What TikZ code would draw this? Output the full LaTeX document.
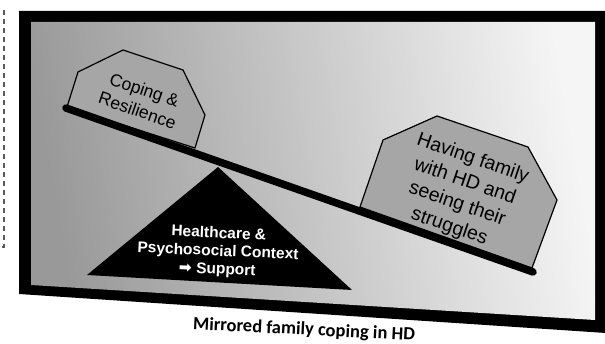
\documentclass[tikz,border=0pt]{standalone}
\usepackage{fontspec}
\setmainfont{Liberation Sans}
\newfontfamily\capfont{Carlito}
\newfontfamily\symfont{DejaVu Sans}
\usepackage{tikz}
\usetikzlibrary{arrows,shapes,backgrounds}

\begin{document}
\begin{tikzpicture}[x=1pt,y=-1pt,
	weight/.style={draw=black, line width=1.2pt, fill=black!35, line join=round},
	weighttext/.style={text centered, align=center, inner sep=0pt}]

\useasboundingbox (0,0) rectangle (605,344);

% frame
\fill [black] (19,11) -- (606,11) -- (606,333) -- (19,294) -- cycle;
\shade [left color=black!40, right color=black!4, shading angle=100]
	(31,22) -- (595,22) -- (595,320) -- (31,285) -- cycle;

\draw [black!65, line width=1.3pt, dash pattern=on 5pt off 4pt] (4,10) -- (4,247) -- (1,247);

% support
\fill [black] (218,167) -- (87,275) -- (352,290) -- cycle;
\node [weighttext, text=white, rotate=-2.5,
	font=\bfseries\fontsize{15.5}{18}\selectfont] (context) at (218,252)
	{Healthcare \&\\Psychosocial Context\\{\symfont ➡} Support};

% weights
\draw [weight] (67,107) -- (78,72) -- (123,50) -- (183,70) -- (205,115) -- (195,148) -- cycle;
\draw [weight] (360,207) -- (383,140) -- (437,116) -- (528,147) -- (557,200) -- (532,268) -- cycle;

\node [weighttext, rotate=-19, font=\fontsize{17.5}{21.5}\selectfont] (coping) at (141,100)
	{Coping \&\\Resilience};
\node [weighttext, rotate=-19, font=\fontsize{19.5}{24}\selectfont] (having) at (461,193)
	{Having family\\with HD and\\seeing their\\struggles};

% beam
\coordinate (beamL) at (66,108);
\coordinate (beamR) at (533,272);
\draw [black, line width=7.5pt, line cap=round] (beamL) -- (beamR);

\node [rotate=-2.9, font=\capfont\bfseries\fontsize{18.5}{22}\selectfont] (caption) at (304,330)
	{Mirrored family coping in HD};

\end{tikzpicture}
\end{document}
